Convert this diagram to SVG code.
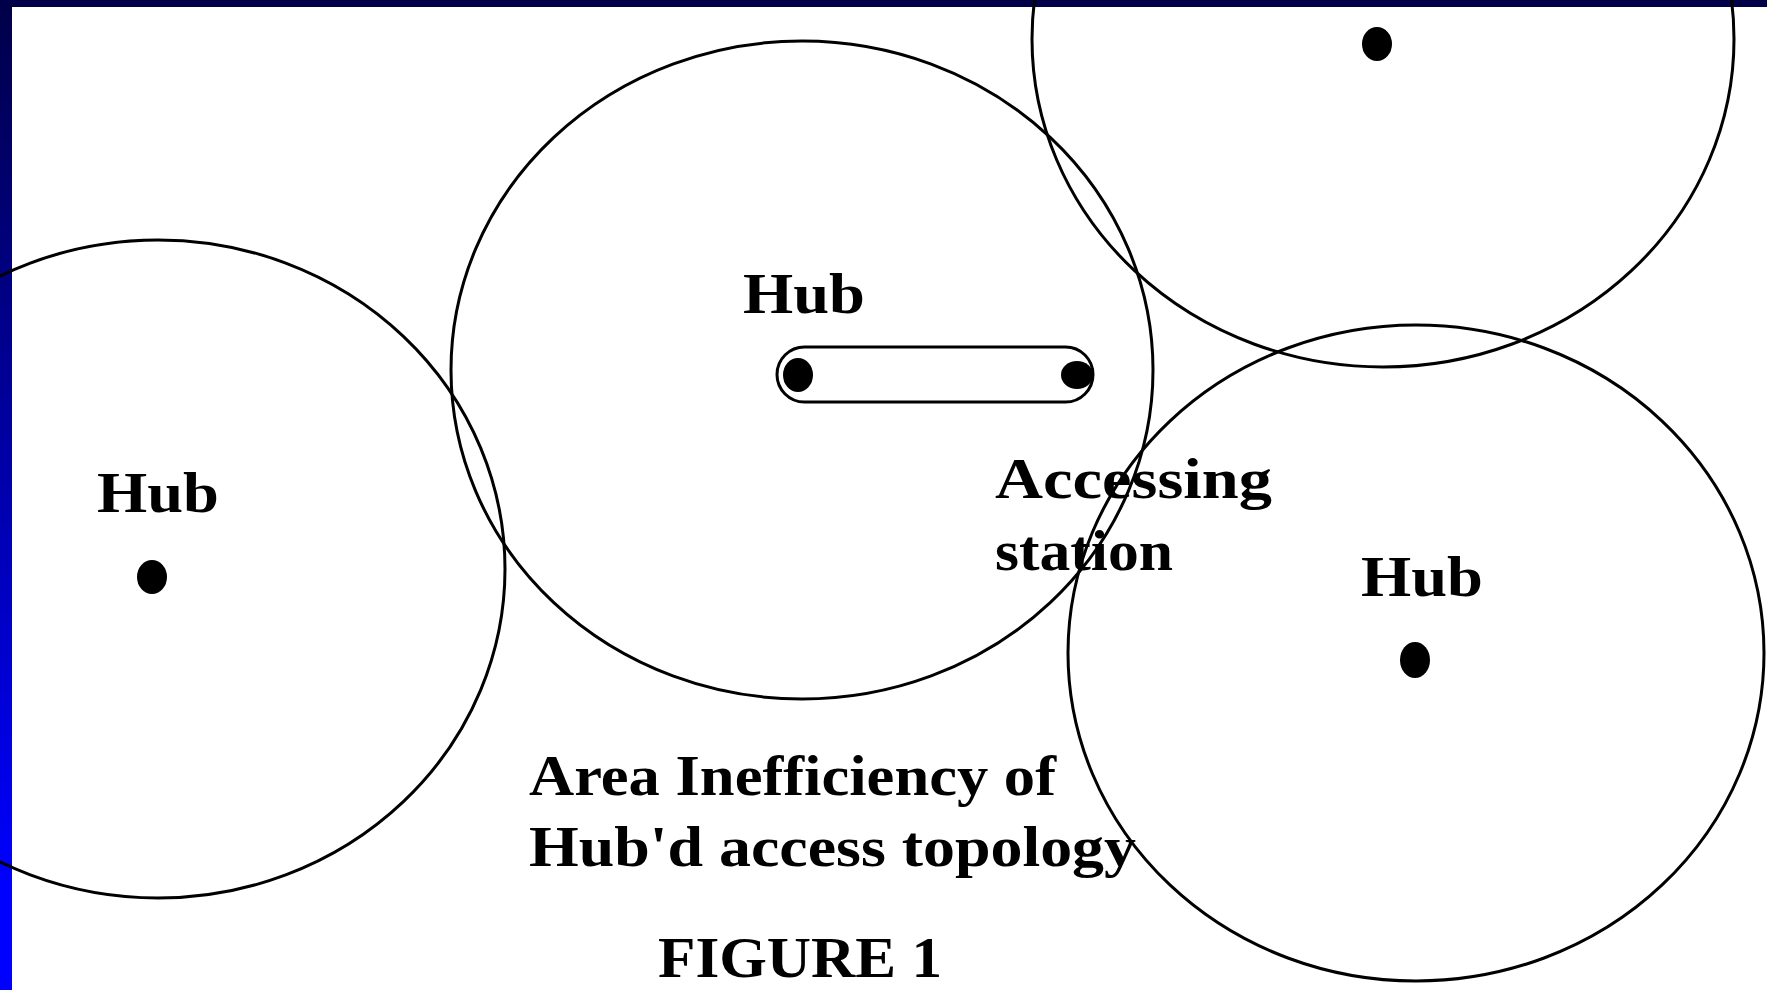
<svg xmlns="http://www.w3.org/2000/svg" width="1767" height="990" viewBox="0 0 1767 990">
  <defs>
    <linearGradient id="bg" x1="0" y1="0" x2="0" y2="1">
      <stop offset="0" stop-color="#000048"/>
      <stop offset="0.9" stop-color="#0000FF"/>
      <stop offset="1" stop-color="#0000FF"/>
    </linearGradient>
  </defs>
  <style>
    .ring { fill: none; stroke: #000; stroke-width: 3; }
    .dot { fill: #000; }
    .pill { fill: none; stroke: #000; stroke-width: 3; }
    .lbl { font-family: "Liberation Serif", "Times New Roman", serif; font-weight: bold; font-size: 57px; fill: #000; }
  </style>
  <rect x="0" y="0" width="1767" height="990" fill="url(#bg)"/>
  <rect x="12" y="7" width="1755" height="983" fill="#FFFFFF"/>

  <g id="hub-left">
    <ellipse class="ring" cx="158" cy="569" rx="347" ry="329"/>
    <ellipse class="dot" cx="152" cy="577" rx="15" ry="17"/>
    <text class="lbl" x="97" y="512" textLength="122" lengthAdjust="spacingAndGlyphs">Hub</text>
  </g>

  <g id="hub-center">
    <ellipse class="ring" cx="802" cy="370" rx="351" ry="329"/>
    <text class="lbl" x="743" y="313" textLength="122" lengthAdjust="spacingAndGlyphs">Hub</text>
  </g>

  <g id="accessing-station">
    <rect class="pill" x="777" y="347" width="316" height="55" rx="27.5" ry="27.5"/>
    <ellipse class="dot" cx="798" cy="375" rx="15" ry="17"/>
    <ellipse class="dot" cx="1077" cy="375" rx="16" ry="14"/>
    <text class="lbl" x="995" y="498" textLength="277" lengthAdjust="spacingAndGlyphs">Accessing</text>
    <text class="lbl" x="995" y="570" textLength="178" lengthAdjust="spacingAndGlyphs">station</text>
  </g>

  <g id="hub-top-right">
    <ellipse class="ring" cx="1383" cy="39" rx="351" ry="328"/>
    <ellipse class="dot" cx="1377" cy="44" rx="15" ry="17"/>
  </g>

  <g id="hub-bottom-right">
    <ellipse class="ring" cx="1416" cy="653" rx="348" ry="328"/>
    <ellipse class="dot" cx="1415" cy="660" rx="15" ry="18"/>
    <text class="lbl" x="1361" y="596" textLength="122" lengthAdjust="spacingAndGlyphs">Hub</text>
  </g>

  <g id="connectors"/>

  <g id="caption">
    <text class="lbl" x="529" y="795" textLength="527" lengthAdjust="spacingAndGlyphs">Area Inefficiency of</text>
    <text class="lbl" x="529" y="866" textLength="607" lengthAdjust="spacingAndGlyphs">Hub'd access topology</text>
    <text class="lbl" x="658" y="977" textLength="284" lengthAdjust="spacingAndGlyphs">FIGURE 1</text>
  </g>
</svg>
